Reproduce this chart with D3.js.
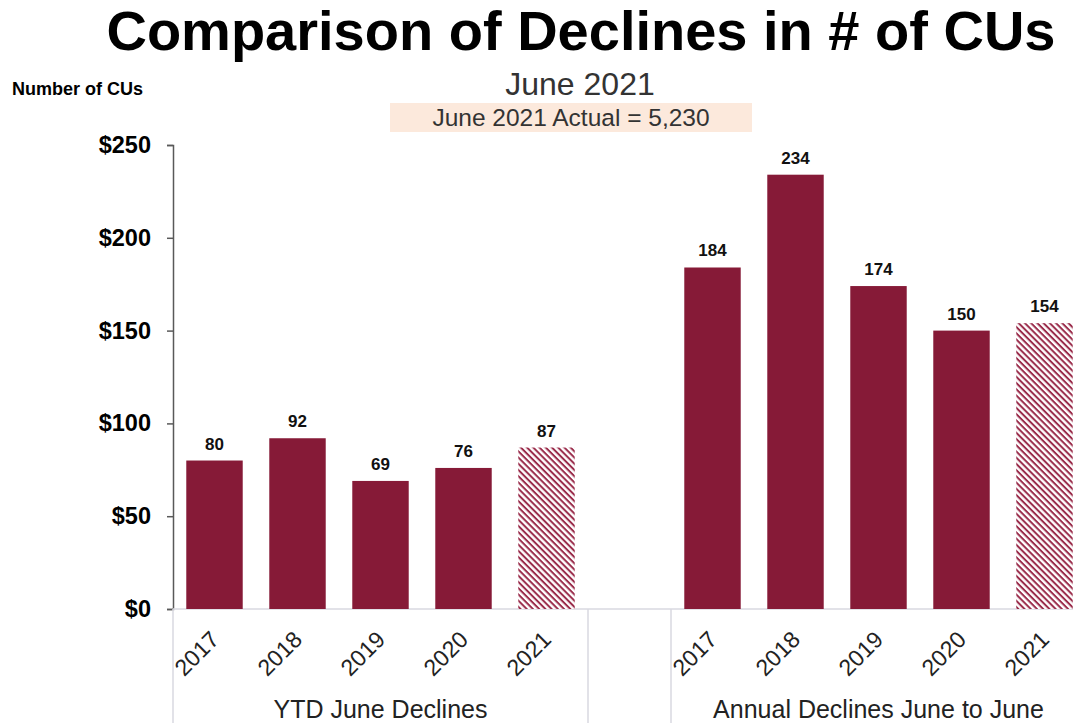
<!DOCTYPE html>
<html>
<head>
  <meta charset="utf-8">
  <title>Comparison of Declines in # of CUs</title>
  <script src="https://d3js.org/d3.v7.min.js"></script>
  <style>
    body { margin: 0; background: #fff; font-family: "Liberation Sans", Arial, sans-serif; }
  </style>
</head>
<body>
  <div id="chart"></div>

  <script>
    // Data
    var years = ["2017", "2018", "2019", "2020", "2021"];
    var groups = ["YTD June Declines", "Annual Declines June to June"];
    var ytdValues = [80, 92, 69, 76, 87];
    var annualValues = [184, 234, 174, 150, 154];
    var yTicks = [0, 50, 100, 150, 200, 250];

    var width = 1073, height = 723;
    var margin = { left: 173, right: 1086, top: 145, bottom: 609 };
    var barColor = "#861a37";

    // One band per bar, plus an empty band between the two groups
    var rows = [];
    years.forEach(function(y, i) { rows.push({ key: "a" + y, year: y, value: ytdValues[i], est: i === years.length - 1 }); });
    rows.push({ key: "gap", year: "", value: null });
    years.forEach(function(y, i) { rows.push({ key: "b" + y, year: y, value: annualValues[i], est: i === years.length - 1 }); });

    var x = d3.scaleBand().domain(rows.map(function(d) { return d.key; }))
      .range([margin.left, margin.right]).paddingInner(0.32).paddingOuter(0.16);
    var y = d3.scaleLinear().domain([0, 250]).range([margin.bottom, margin.top]);

    var svg = d3.select("#chart").append("svg")
      .attr("width", width).attr("height", height);

    // hatched fill for the 2021 bars (lines running down to the right)
    var defs = svg.append("defs");
    var pat = defs.append("pattern").attr("id", "hatch")
      .attr("patternUnits", "userSpaceOnUse").attr("width", 4.4).attr("height", 4.4)
      .attr("patternTransform", "rotate(45)");
    pat.append("rect").attr("width", 4.4).attr("height", 4.4).attr("fill", "#fff");
    pat.append("rect").attr("width", 4.4).attr("height", 2).attr("fill", "#9a2c4b");

    // Titles
    svg.append("text").attr("x", 581).attr("y", 50).attr("text-anchor", "middle")
      .attr("font-size", 56).attr("font-weight", "bold").attr("fill", "#000")
      .text("Comparison of Declines in # of CUs");
    svg.append("text").attr("x", 580).attr("y", 95).attr("text-anchor", "middle")
      .attr("font-size", 32).attr("fill", "#333")
      .text("June 2021");
    svg.append("rect").attr("x", 390).attr("y", 103).attr("width", 362).attr("height", 29)
      .attr("fill", "#fce9dc");
    svg.append("text").attr("x", 571).attr("y", 126).attr("text-anchor", "middle")
      .attr("font-size", 24.5).attr("fill", "#333")
      .text("June 2021 Actual = 5,230");
    svg.append("text").attr("x", 12).attr("y", 95)
      .attr("font-size", 18).attr("font-weight", "bold").attr("fill", "#000")
      .text("Number of CUs");

    // Y axis
    var yAxis = d3.axisLeft(y).tickValues(yTicks).tickSize(6).tickPadding(16)
      .tickFormat(function(d) { return "$" + d; });
    var gy = svg.append("g").attr("transform", "translate(" + margin.left + ",0)").call(yAxis);
    gy.select(".domain").attr("stroke", "#595959").attr("stroke-width", 1.5);
    gy.selectAll(".tick line").attr("stroke", "#595959").attr("stroke-width", 1.5);
    gy.selectAll(".tick text").attr("font-size", 23.5).attr("font-weight", "bold")
      .attr("font-family", "Liberation Sans, Arial, sans-serif").attr("fill", "#000");

    // X axis baseline and group separators
    svg.append("line").attr("x1", margin.left).attr("x2", margin.right)
      .attr("y1", margin.bottom).attr("y2", margin.bottom)
      .attr("stroke", "#d9d9e0").attr("stroke-width", 1.5);
    var gapStart = x("gap") - x.step() * x.paddingInner() / 2;
    var seps = [margin.left, gapStart, gapStart + x.step()];
    svg.selectAll(".sep").data(seps).enter().append("line").attr("class", "sep")
      .attr("x1", function(d) { return d; }).attr("x2", function(d) { return d; })
      .attr("y1", margin.bottom).attr("y2", height)
      .attr("stroke", "#d9d9e0").attr("stroke-width", 1.5);

    var bars = rows.filter(function(d) { return d.value !== null; });

    svg.selectAll(".bar").data(bars).enter().append("rect").attr("class", "bar")
      .attr("x", function(d) { return x(d.key); })
      .attr("y", function(d) { return y(d.value); })
      .attr("width", x.bandwidth())
      .attr("height", function(d) { return y(0) - y(d.value); })
      .attr("fill", function(d) { return d.est ? "url(#hatch)" : barColor; });

    svg.selectAll(".val").data(bars).enter().append("text").attr("class", "val")
      .attr("x", function(d) { return x(d.key) + x.bandwidth() / 2; })
      .attr("y", function(d) { return y(d.value) - 11; })
      .attr("text-anchor", "middle").attr("font-size", 17).attr("font-weight", "bold")
      .attr("fill", "#111")
      .text(function(d) { return d.value; });

    // Rotated year labels
    svg.selectAll(".yr").data(bars).enter().append("text").attr("class", "yr")
      .attr("transform", function(d) {
        return "translate(" + (x(d.key) + x.bandwidth() / 2 + 6) + "," + 641 + ") rotate(-45)";
      })
      .attr("text-anchor", "end").attr("font-size", 23).attr("fill", "#222")
      .text(function(d) { return d.year; });

    // Group labels
    svg.selectAll(".grp").data(groups).enter().append("text").attr("class", "grp")
      .attr("x", function(d, i) {
        return i === 0 ? (margin.left + gapStart) / 2 : (gapStart + x.step() + margin.right) / 2;
      })
      .attr("y", 718).attr("text-anchor", "middle").attr("font-size", 25).attr("fill", "#222")
      .text(function(d) { return d; });
  </script>
</body>
</html>
